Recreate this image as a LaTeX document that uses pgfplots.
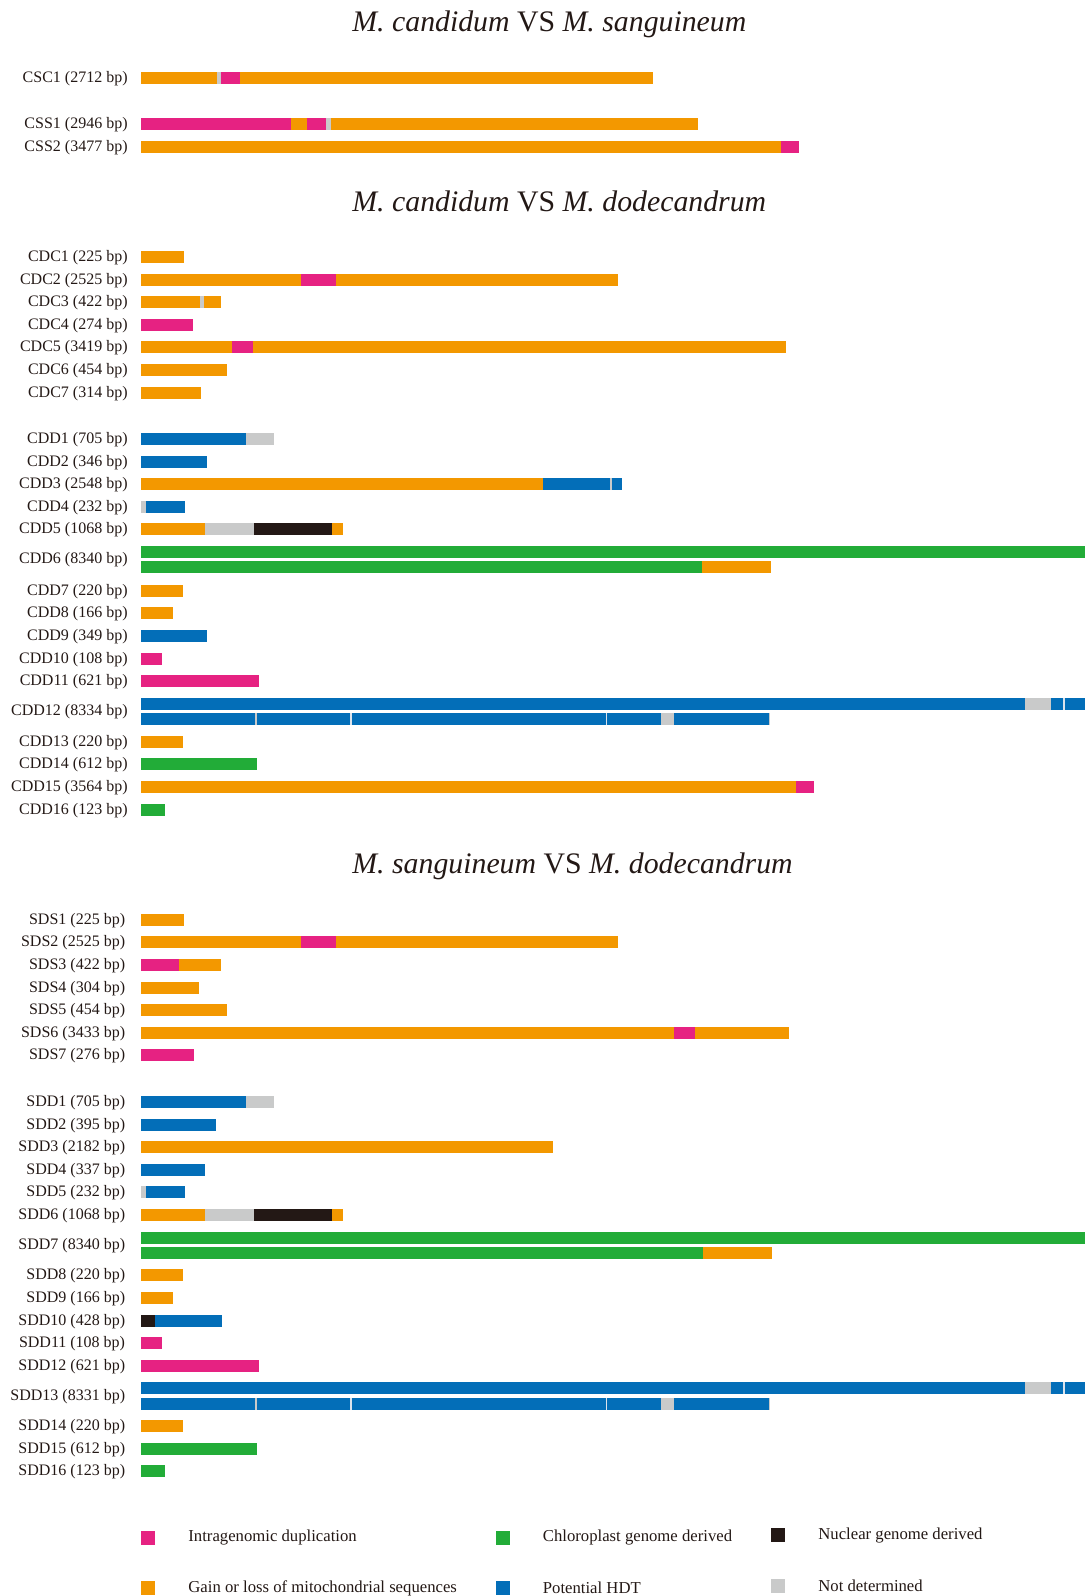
\documentclass[border=0pt]{standalone}
\usepackage{pgfplots}
\pgfplotsset{compat=1.18}
\usepackage{fontspec}
\setmainfont{Liberation Serif}
\definecolor{cpink}{HTML}{E62282}
\definecolor{corange}{HTML}{F39800}
\definecolor{cgreen}{HTML}{22AC38}
\definecolor{cblue}{HTML}{036EB8}
\definecolor{cblack}{HTML}{231815}
\definecolor{cgray}{HTML}{C9CACA}
\definecolor{csep}{HTML}{DCE3EC}
\definecolor{ctext}{HTML}{231815}
\newcommand{\seg}[4]{\addplot[draw=#1, line width=6pt, mark=none] coordinates {(#2,#4) (#3,#4)};}
\newcommand{\lab}{\fontsize{8}{9.6}\selectfont}
\newcommand{\legf}{\fontsize{8.35}{10}\selectfont}
\newcommand{\ttl}{\fontsize{14.9}{18}\selectfont}
\newcommand{\lbl}[3]{\node[anchor=east, inner sep=0pt, font=\lab, text=ctext] at (axis cs:#1,#2) {#3};}
\newcommand{\leg}[4]{\addplot[only marks, mark=square*, mark size=3.25pt, mark options={fill=#1, draw=#1, line width=0pt}] coordinates {(#2,#3)};
  \node[anchor=west, inner sep=0pt, font=\legf, text=ctext] at (axis cs:#2+40,#3) {#4};}
\begin{document}
\begin{tikzpicture}
\begin{axis}[scale only axis, width=542.5pt, height=798pt,
  xmin=0, xmax=1085, ymin=0, ymax=1596, y dir=reverse,
  hide axis, clip=false]
\addplot[draw=none, mark=none] coordinates {(0,0) (1085,1596)};
\coordinate (LL) at (axis cs:0,1596);
\coordinate (UR) at (axis cs:1085,0);
% ---------- Panel 1 ----------
\node[anchor=base west, inner sep=0pt, font=\ttl, text=ctext] at (axis cs:352,31) {\textit{M. candidum} VS \textit{M. sanguineum}};
\lbl{128}{78.2}{CSC1 (2712 bp)}
\seg{corange}{141}{217.3}{77.7}\seg{cgray}{217.3}{221.4}{77.7}\seg{cpink}{221.4}{240.3}{77.7}\seg{corange}{240.3}{653}{77.7}
\lbl{128}{124.5}{CSS1 (2946 bp)}
\seg{cpink}{141}{291.4}{124}\seg{corange}{291.4}{306.7}{124}\seg{cpink}{306.7}{325.7}{124}\seg{cgray}{325.7}{330.8}{124}\seg{corange}{330.8}{698}{124}
\lbl{128}{147.5}{CSS2 (3477 bp)}
\seg{corange}{141}{780.7}{147}\seg{cpink}{780.7}{798.5}{147}
% ---------- Panel 2 ----------
\node[anchor=base west, inner sep=0pt, font=\ttl, text=ctext] at (axis cs:352,211) {\textit{M. candidum} VS \textit{M. dodecandrum}};
\lbl{128}{257.5}{CDC1 (225 bp)}
\seg{corange}{141}{183.7}{257}
\lbl{128}{280.2}{CDC2 (2525 bp)}
\seg{corange}{141}{301}{279.7}\seg{cpink}{301}{336.2}{279.7}\seg{corange}{336.2}{618}{279.7}
\lbl{128}{302.2}{CDC3 (422 bp)}
\seg{corange}{141}{200}{301.7}\seg{cgray}{200}{204}{301.7}\seg{corange}{204}{221}{301.7}
\lbl{128}{325.2}{CDC4 (274 bp)}
\seg{cpink}{141}{192.9}{324.7}
\lbl{128}{347.5}{CDC5 (3419 bp)}
\seg{corange}{141}{232.1}{347}\seg{cpink}{232.1}{253}{347}\seg{corange}{253}{785.7}{347}
\lbl{128}{370.2}{CDC6 (454 bp)}
\seg{corange}{141}{227}{369.7}
\lbl{128}{393.2}{CDC7 (314 bp)}
\seg{corange}{141}{201}{392.7}
\lbl{128}{439.5}{CDD1 (705 bp)}
\seg{cblue}{141}{246}{439}\seg{cgray}{246}{273.7}{439}
\lbl{128}{462.3}{CDD2 (346 bp)}
\seg{cblue}{141}{207}{461.8}
\lbl{128}{484.7}{CDD3 (2548 bp)}
\seg{corange}{141}{542.9}{484.2}\seg{cblue}{542.9}{609.8}{484.2}\seg{cgray}{609.8}{611.6}{484.2}\seg{cblue}{611.6}{622}{484.2}
\lbl{128}{507.5}{CDD4 (232 bp)}
\seg{cgray}{141}{146}{507}\seg{cblue}{146}{184.8}{507}
\lbl{128}{529.7}{CDD5 (1068 bp)}
\seg{corange}{141}{204.9}{529.2}\seg{cgray}{204.9}{254}{529.2}\seg{cblack}{254}{332}{529.2}\seg{corange}{332}{343}{529.2}
\lbl{128}{560}{CDD6 (8340 bp)}
\seg{cgreen}{141}{1085}{551.8}
\seg{cgreen}{141}{701.5}{567.2}\seg{corange}{701.5}{770.5}{567.2}
\lbl{128}{591.5}{CDD7 (220 bp)}
\seg{corange}{141}{183}{591}
\lbl{128}{613.5}{CDD8 (166 bp)}
\seg{corange}{141}{173}{613}
\lbl{128}{636.2}{CDD9 (349 bp)}
\seg{cblue}{141}{207}{635.7}
\lbl{128}{659.5}{CDD10 (108 bp)}
\seg{cpink}{141}{162}{659}
\lbl{128}{681.5}{CDD11 (621 bp)}
\seg{cpink}{141}{258.9}{681}
\lbl{128}{711.9}{CDD12 (8334 bp)}
\seg{cblue}{141}{1025}{703.8}\seg{cgray}{1025}{1051}{703.8}\seg{cblue}{1051}{1085}{703.8}\seg{csep}{1063}{1065}{703.8}
\seg{cblue}{141}{769}{719}\seg{cgray}{255.2}{257.3}{719}\seg{csep}{350.4}{352}{719}\seg{csep}{605.5}{607}{719}\seg{cgray}{661}{674}{719}\seg{cgray}{769}{770.4}{719}
\lbl{128}{742.2}{CDD13 (220 bp)}
\seg{corange}{141}{183}{741.7}
\lbl{128}{764.2}{CDD14 (612 bp)}
\seg{cgreen}{141}{256.8}{763.7}
\lbl{128}{787.2}{CDD15 (3564 bp)}
\seg{corange}{141}{796}{786.7}\seg{cpink}{796}{814.3}{786.7}
\lbl{128}{810.2}{CDD16 (123 bp)}
\seg{cgreen}{141}{165.3}{809.7}
% ---------- Panel 3 ----------
\node[anchor=base west, inner sep=0pt, font=\ttl, text=ctext] at (axis cs:352,873) {\textit{M. sanguineum} VS \textit{M. dodecandrum}};
\lbl{125.5}{920.5}{SDS1 (225 bp)}
\seg{corange}{141}{184.2}{920}
\lbl{125.5}{942.3}{SDS2 (2525 bp)}
\seg{corange}{141}{301}{941.8}\seg{cpink}{301}{336.2}{941.8}\seg{corange}{336.2}{618}{941.8}
\lbl{125.5}{965.5}{SDS3 (422 bp)}
\seg{cpink}{141}{179}{965}\seg{corange}{179}{221}{965}
\lbl{125.5}{988.5}{SDS4 (304 bp)}
\seg{corange}{141}{199}{988}
\lbl{125.5}{1010.5}{SDS5 (454 bp)}
\seg{corange}{141}{227}{1010}
\lbl{125.5}{1033.2}{SDS6 (3433 bp)}
\seg{corange}{141}{674}{1032.7}\seg{cpink}{674}{695}{1032.7}\seg{corange}{695}{788.8}{1032.7}
\lbl{125.5}{1055.5}{SDS7 (276 bp)}
\seg{cpink}{141}{193.9}{1055}
\lbl{125.5}{1102.3}{SDD1 (705 bp)}
\seg{cblue}{141}{246}{1101.8}\seg{cgray}{246}{274}{1101.8}
\lbl{125.5}{1125.5}{SDD2 (395 bp)}
\seg{cblue}{141}{215.8}{1125}
\lbl{125.5}{1147.3}{SDD3 (2182 bp)}
\seg{corange}{141}{553}{1146.8}
\lbl{125.5}{1170.5}{SDD4 (337 bp)}
\seg{cblue}{141}{205}{1170}
\lbl{125.5}{1192.3}{SDD5 (232 bp)}
\seg{cgray}{141}{146}{1191.8}\seg{cblue}{146}{185.2}{1191.8}
\lbl{125.5}{1215.3}{SDD6 (1068 bp)}
\seg{corange}{141}{205}{1214.8}\seg{cgray}{205}{254}{1214.8}\seg{cblack}{254}{332}{1214.8}\seg{corange}{332}{343}{1214.8}
\lbl{125.5}{1245.9}{SDD7 (8340 bp)}
\seg{cgreen}{141}{1085}{1237.8}
\seg{cgreen}{141}{703}{1253}\seg{corange}{703}{772}{1253}
\lbl{125.5}{1275.5}{SDD8 (220 bp)}
\seg{corange}{141}{183}{1275}
\lbl{125.5}{1298.5}{SDD9 (166 bp)}
\seg{corange}{141}{173}{1298}
\lbl{125.5}{1321.5}{SDD10 (428 bp)}
\seg{cblack}{141}{154.8}{1321}\seg{cblue}{154.8}{222.3}{1321}
\lbl{125.5}{1343.5}{SDD11 (108 bp)}
\seg{cpink}{141}{162}{1343}
\lbl{125.5}{1366.5}{SDD12 (621 bp)}
\seg{cpink}{141}{258.9}{1366}
\lbl{125.5}{1396.5}{SDD13 (8331 bp)}
\seg{cblue}{141}{1025}{1388}\seg{cgray}{1025}{1051}{1388}\seg{cblue}{1051}{1085}{1388}\seg{csep}{1063}{1065}{1388}
\seg{cblue}{141}{769}{1404}\seg{cgray}{255.2}{257.3}{1404}\seg{csep}{350.4}{352}{1404}\seg{csep}{605.5}{607}{1404}\seg{cgray}{661}{674}{1404}\seg{cgray}{769}{770.4}{1404}
\lbl{125.5}{1426.5}{SDD14 (220 bp)}
\seg{corange}{141}{183}{1426}
\lbl{125.5}{1449.5}{SDD15 (612 bp)}
\seg{cgreen}{141}{256.8}{1449}
\lbl{125.5}{1471.5}{SDD16 (123 bp)}
\seg{cgreen}{141}{165.3}{1471}
% ---------- Legend ----------
\leg{cpink}{148}{1537.5}{Intragenomic duplication}
\leg{corange}{148}{1588}{Gain or loss of mitochondrial sequences}
\leg{cgreen}{502.5}{1537.5}{Chloroplast genome derived}
\leg{cblue}{502.5}{1588}{Potential HDT}
\leg{cblack}{778}{1535}{Nuclear genome derived}
\leg{cgray}{778}{1585.5}{Not determined}
\end{axis}
\pgfresetboundingbox
\useasboundingbox (LL) rectangle (UR);
\end{tikzpicture}
\end{document}
